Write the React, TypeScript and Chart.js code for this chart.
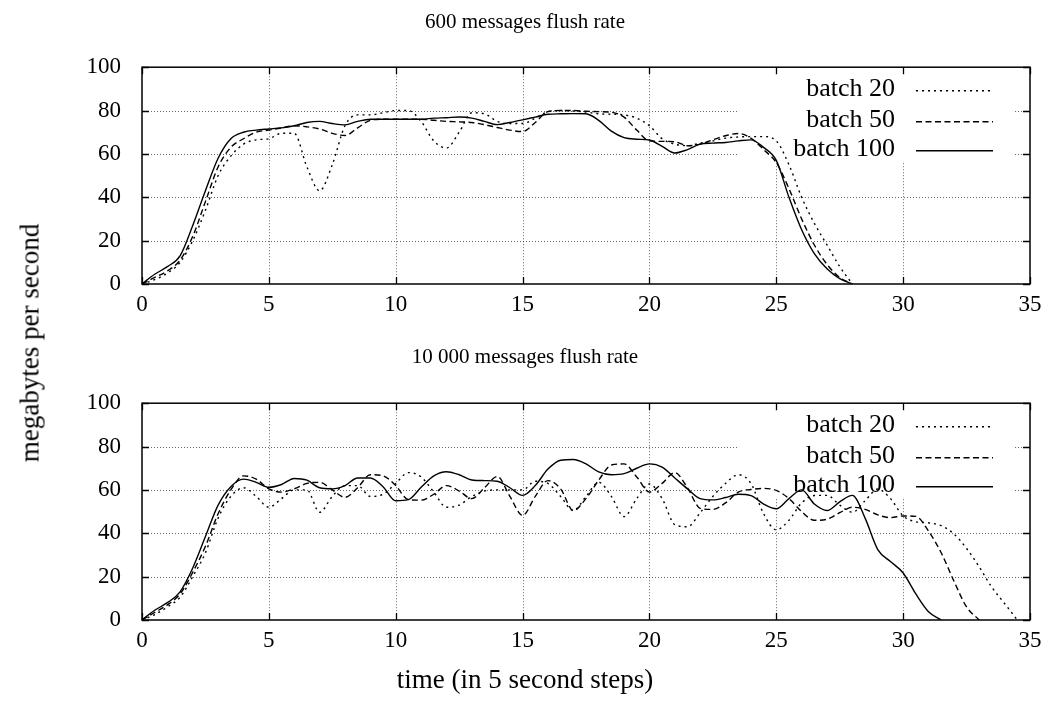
import React, { useEffect, useRef } from "react";
import { Chart, registerables } from "chart.js";

Chart.register(...registerables);

// ---------- data ----------
const TIME = [
  0, 0.5, 1, 1.5, 2, 2.5, 3, 3.5, 4, 4.5, 5, 5.5, 6, 6.5, 7, 7.5, 8, 8.5, 9, 9.5,
  10, 10.5, 11, 11.5, 12, 12.5, 13, 13.5, 14, 14.5, 15, 15.5, 16, 16.5, 17, 17.5,
  18, 18.5, 19, 19.5, 20, 20.5, 21, 21.5, 22, 22.5, 23, 23.5, 24, 24.5, 25, 25.5,
  26, 26.5, 27, 27.5, 28, 28.5, 29, 29.5, 30, 30.5, 31, 31.5, 32, 32.5, 33, 33.5,
  34, 34.5, 35,
];

const SERIES_LABELS = ["batch 20", "batch 50", "batch 100"];
const X_TICKS = [0, 5, 10, 15, 20, 25, 30, 35];
const Y_TICKS = [0, 20, 40, 60, 80, 100];
const TOP_TITLE = "600 messages flush rate";
const BOTTOM_TITLE = "10 000 messages flush rate";
const X_TITLE = "time (in 5 second steps)";
const Y_TITLE = "megabytes per second";

// 600 messages flush rate
const TOP_BATCH20 = [
  0, 2, 5, 10, 20, 34, 50, 59, 64.5, 66.5, 67, 69.5, 69.5, 54, 43, 55, 73, 78, 78, 79,
  80, 80, 75, 66, 62.7, 70, 79, 78.5, 75, 74, 74, 76.5, 79.5, 80, 79.8, 79.3,
  78.5, 78.3, 78, 76.5, 73, 67, 64.5, 63.8, 65, 66, 67.3, 67.8, 68, 68, 66, 55,
  40, 28, 18, 8, 0, null, null, null, null, null, null, null, null, null, null, null,
  null, null, null,
];
const TOP_BATCH50 = [
  0, 3, 6, 11, 22, 38, 54, 63, 67, 70, 71, 72, 73, 72.5, 71.5, 69.5, 68.5, 72, 75.5, 76,
  76, 76, 76, 75.5, 75, 74.8, 74.5, 73.5, 72.2, 71, 70.3, 74.5, 79.5, 80, 80, 79.7,
  79.5, 79.2, 77, 71, 66, 65.8, 65.6, 63.8, 64.5, 66.5, 68.4, 69.4, 67.3, 62, 56, 44,
  30, 18, 9, 3, 0, null, null, null, null, null, null, null, null, null, null, null,
  null, null, null,
];
const TOP_BATCH100 = [
  0, 4.5, 8, 13, 27, 43, 58, 67, 70, 71, 71.5, 72, 73, 74.5, 75, 74, 73.4, 75, 76, 76,
  76, 76, 76, 76.5, 76.7, 77, 76.5, 75, 73.5, 74.5, 75.7, 77, 78.3, 78.5, 78.6, 78.5,
  75.5, 70.5, 67.5, 66.8, 66.4, 63.5, 60.4, 62, 64.5, 65, 65.3, 66, 66.5, 63, 57, 40,
  25, 14, 7, 2.5, 0, null, null, null, null, null, null, null, null, null, null, null,
  null, null, null,
];

// 10 000 messages flush rate
const BOTTOM_BATCH20 = [
  0, 2.5, 6, 10.5, 20, 31, 47, 57, 61, 57, 52, 56, 60, 60, 49.7, 57, 62, 62, 57, 58,
  63, 68, 66, 59, 52, 53, 57, 59.5, 60, 60, 60, 64, 63, 57, 50.5, 57,
  63.5, 57, 47.7, 56, 62.7, 56, 44, 43, 49.5, 57, 63, 67, 63, 49, 41.6, 46,
  54, 57.4, 57.5, 53, 49.7, 55, 60.4, 56, 48, 45.3, 44.8, 43.5, 39.7, 33, 24.5, 15,
  7.6, 0, null,
];
const BOTTOM_BATCH50 = [
  0, 3.5, 7, 12, 22, 34, 49, 60, 66.5, 65, 60.5, 59, 60.5, 63, 63.5, 60, 56.6, 61, 67, 66.5,
  62, 55.5, 55.3, 58, 62, 59.5, 56, 61, 66.2, 57, 48.2, 57, 64.3, 60.5, 50.5, 56,
  64.5, 71.5, 72, 66, 59, 63, 68, 61, 51.5, 51, 54, 59, 60.2, 60.7, 59.8, 56,
  50, 46, 46.5, 49.5, 52, 51, 48.5, 47.2, 48, 47.8, 41, 31, 18, 6, 0, null,
  null, null, null,
];
const BOTTOM_BATCH100 = [
  0, 4.5, 8, 13, 24, 38.5, 53, 61.5, 65, 63.5, 61.2, 62.5, 65.3, 64.5, 61, 60.5, 62, 65.5, 65.5, 61.5,
  55, 55.5, 61.2, 66.5, 68.4, 67, 64.6, 64.3, 64, 61, 57.5, 62, 69.6, 73.7, 74, 72,
  68.3, 67, 67.5, 70, 72, 70.5, 65.5, 60.5, 56, 55.4, 56.5, 58, 57.4, 53.5, 51.3, 56,
  60, 53.5, 50.5, 54.5, 57.5, 47, 32.5, 27, 21.7, 12, 3.8, 0, null, null, null, null,
  null, null, null,
];

// ---------- styling ----------
const FONT = '"Liberation Serif", "Times New Roman", serif';
const DASHES: number[][] = [[2, 4], [6, 3.5], []];
const W = 1050;
const TOP_H = 330;
const BOT_H = 377;
const PAD_SIDE = 20;

const gnuplotPlugin = {
  id: "gnuplotFrame",
  beforeDatasetsDraw(chart: any) {
    const { ctx, chartArea: a, scales } = chart;
    const xs = scales.x;
    const ys = scales.y;
    ctx.save();

    // dotted grid
    ctx.strokeStyle = "rgba(0,0,0,0.6)";
    ctx.lineWidth = 1;
    ctx.setLineDash([1, 2]);
    X_TICKS.slice(1, -1).forEach((v) => {
      const px = Math.round(xs.getPixelForValue(v)) + 0.5;
      ctx.beginPath();
      ctx.moveTo(px, a.top);
      ctx.lineTo(px, a.bottom);
      ctx.stroke();
    });
    Y_TICKS.slice(1, -1).forEach((v) => {
      const py = Math.round(ys.getPixelForValue(v)) + 0.5;
      ctx.beginPath();
      ctx.moveTo(a.left, py);
      ctx.lineTo(a.right, py);
      ctx.stroke();
    });
    ctx.setLineDash([]);

    // legend background (opaque, no border)
    const boxLeft = 738;
    const boxRight = 1013;
    ctx.fillStyle = "#fff";
    ctx.fillRect(boxLeft, a.top + 1, boxRight - boxLeft, 93);

    // frame
    ctx.strokeStyle = "#000";
    ctx.lineWidth = 1.5;
    ctx.strokeRect(a.left, a.top, a.right - a.left, a.bottom - a.top);

    // inward tick marks (mirrored)
    ctx.lineWidth = 1.3;
    const tl = 7;
    X_TICKS.forEach((v) => {
      const px = Math.round(xs.getPixelForValue(v)) + 0.5;
      ctx.beginPath();
      ctx.moveTo(px, a.bottom);
      ctx.lineTo(px, a.bottom - tl);
      ctx.moveTo(px, a.top);
      ctx.lineTo(px, a.top + tl);
      ctx.stroke();
    });
    Y_TICKS.forEach((v) => {
      const py = Math.round(ys.getPixelForValue(v)) + 0.5;
      ctx.beginPath();
      ctx.moveTo(a.left, py);
      ctx.lineTo(a.left + tl, py);
      ctx.moveTo(a.right, py);
      ctx.lineTo(a.right - tl, py);
      ctx.stroke();
    });

    // legend entries
    ctx.font = `26px ${FONT}`;
    ctx.fillStyle = "#000";
    ctx.textAlign = "right";
    ctx.textBaseline = "middle";
    const rows = [22, 53, 82];
    SERIES_LABELS.forEach((lab, i) => {
      const y = a.top + rows[i];
      ctx.fillText(lab, 895, y);
      ctx.lineWidth = 1.4;
      ctx.setLineDash(DASHES[i]);
      ctx.beginPath();
      ctx.moveTo(916, y + 1.5);
      ctx.lineTo(993, y + 1.5);
      ctx.stroke();
      ctx.setLineDash([]);
    });

    ctx.restore();
  },
};

function buildConfig(
  title: string,
  series: (number | null)[][],
  titlePad: { top: number; bottom: number },
  xHeight: number,
  withXTitle: boolean
) {
  return {
    type: "line" as const,
    data: {
      datasets: series.map((ys, i) => ({
        label: SERIES_LABELS[i],
        data: TIME.map((t, j) => ({ x: t, y: ys[j] })).filter((p) => p.y !== null),
        borderColor: "#000",
        backgroundColor: "#000",
        borderWidth: 1.4,
        borderDash: DASHES[i],
        pointRadius: 0,
        cubicInterpolationMode: "monotone" as const,
        fill: false,
      })),
    },
    options: {
      animation: false as const,
      responsive: false,
      maintainAspectRatio: false,
      layout: { padding: { left: PAD_SIDE, right: PAD_SIDE, top: 0, bottom: 0 } },
      plugins: {
        legend: { display: false },
        tooltip: { enabled: false },
        title: {
          display: true,
          text: title,
          color: "#000",
          font: { family: FONT, size: 21, weight: "normal" as const },
          padding: titlePad,
        },
        subtitle: {
          display: withXTitle,
          position: "bottom" as const,
          text: X_TITLE,
          color: "#000",
          font: { family: FONT, size: 27, weight: "normal" as const },
          padding: { top: 0, bottom: 10 },
        },
      },
      scales: {
        x: {
          type: "linear" as const,
          min: 0,
          max: 35,
          afterBuildTicks: (s: any) => {
            s.ticks = X_TICKS.map((v) => ({ value: v }));
          },
          afterFit: (s: any) => {
            s.height = xHeight;
          },
          ticks: {
            color: "#000",
            font: { family: FONT, size: 23 },
            padding: 7,
            maxRotation: 0,
            autoSkip: false,
          },
          grid: { display: false, drawTicks: false },
          border: { display: false },
        },
        y: {
          min: 0,
          max: 100,
          afterBuildTicks: (s: any) => {
            s.ticks = Y_TICKS.map((v) => ({ value: v }));
          },
          afterFit: (s: any) => {
            s.width = 142 - PAD_SIDE;
          },
          ticks: {
            color: "#000",
            font: { family: FONT, size: 23 },
            padding: 21,
          },
          grid: { display: false, drawTicks: false },
          border: { display: false },
        },
      },
    },
    plugins: [gnuplotPlugin],
  };
}

export default function App() {
  const topRef = useRef<HTMLCanvasElement | null>(null);
  const botRef = useRef<HTMLCanvasElement | null>(null);

  useEffect(() => {
    const c1 = new Chart(
      topRef.current as HTMLCanvasElement,
      buildConfig(
        TOP_TITLE,
        [TOP_BATCH20, TOP_BATCH50, TOP_BATCH100],
        { top: 10, bottom: 32 },
        TOP_H - 284,
        false
      ) as any
    );
    // bottom canvas: chart area bottom at 290 (page 620); x-title box = 27*1.2 + 10
    const subtitleH = 27 * 1.2 + 10;
    const c2 = new Chart(
      botRef.current as HTMLCanvasElement,
      buildConfig(
        BOTTOM_TITLE,
        [BOTTOM_BATCH20, BOTTOM_BATCH50, BOTTOM_BATCH100],
        { top: 15, bottom: 33 },
        BOT_H - subtitleH - (620 - TOP_H),
        true
      ) as any
    );
    return () => {
      c1.destroy();
      c2.destroy();
    };
  }, []);

  return (
    <div
      style={{
        position: "absolute",
        left: 0,
        top: 0,
        width: W,
        height: TOP_H + BOT_H,
        background: "#fff",
        overflow: "hidden",
      }}
    >
      <canvas
        ref={topRef}
        width={W}
        height={TOP_H}
        style={{ position: "absolute", left: 0, top: 0, width: W, height: TOP_H, display: "block" }}
      />
      <canvas
        ref={botRef}
        width={W}
        height={BOT_H}
        style={{ position: "absolute", left: 0, top: TOP_H, width: W, height: BOT_H, display: "block" }}
      />
      <div
        style={{
          position: "absolute",
          left: 30,
          top: 343,
          transform: "translate(-50%, -50%) rotate(-90deg)",
          whiteSpace: "nowrap",
          fontFamily: FONT,
          fontSize: 27,
          color: "#000",
          lineHeight: 1,
        }}
      >
        {Y_TITLE}
      </div>
    </div>
  );
}
